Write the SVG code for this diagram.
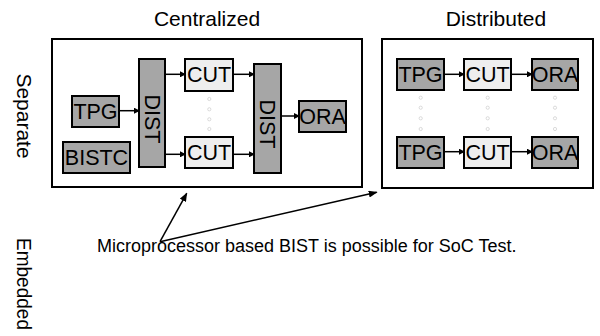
<svg xmlns="http://www.w3.org/2000/svg" width="600" height="336" viewBox="0 0 600 336">
<defs>
<marker id="ah" markerWidth="6" markerHeight="6" refX="5" refY="3" orient="auto" markerUnits="userSpaceOnUse">
<path d="M0,0 L6,3 L0,6 z" fill="#000"/>
</marker>
<marker id="ah2" markerWidth="9" markerHeight="7" refX="8" refY="3.5" orient="auto" markerUnits="userSpaceOnUse">
<path d="M0,0 L9,3.5 L0,7 z" fill="#000"/>
</marker>
</defs>
<style>
text{font-family:"Liberation Sans",Arial,sans-serif;fill:#000}
.frame{fill:#fff;stroke:#000;stroke-width:2}
.dark{fill:#a6a6a6;stroke:#000;stroke-width:2}
.light{fill:#eeeeee;stroke:#000;stroke-width:2}
.lbl{font-size:21px;text-anchor:middle}
.nt{font-size:21.5px;text-anchor:middle}
.cap{font-size:18px}
.c{stroke:#000;stroke-width:1.5;fill:none;marker-end:url(#ah)}
.p{stroke:#000;stroke-width:1.5;fill:none;marker-end:url(#ah2)}
.dot{fill:none;stroke:#d0d0d0;stroke-width:0.8}
</style>
<rect width="600" height="336" fill="#fff"/>
<text class="lbl" x="207" y="26">Centralized</text>
<text class="lbl" x="496" y="26">Distributed</text>
<text class="lbl" transform="translate(17,116) rotate(90)">Separate</text>
<text font-size="20" textLength="92" lengthAdjust="spacingAndGlyphs" transform="translate(17,238) rotate(90)">Embedded</text>
<g id="centralized"><rect class="frame" x="52" y="39" width="310" height="148"/></g>
<g id="distributed"><rect class="frame" x="382" y="39" width="211" height="149"/></g>
<g id="c-tpg"><rect class="dark" x="72" y="96" width="47" height="31"/><text class="nt" x="95.5" y="119">TPG</text></g>
<g id="c-bistc"><rect class="dark" x="63" y="142" width="67" height="31"/><text class="nt" x="96.5" y="165">BISTC</text></g>
<g id="c-dist1"><rect class="dark" x="139" y="59" width="26" height="108"/><text class="nt" transform="translate(145,119) rotate(90)">DIST</text></g>
<g id="c-cut1"><rect class="light" x="185" y="59" width="48" height="32"/><text class="nt" x="209" y="82">CUT</text></g>
<g id="c-cut2"><rect class="light" x="185" y="137" width="48" height="31"/><text class="nt" x="209" y="160">CUT</text></g>
<g id="c-dist2"><rect class="dark" x="254" y="64" width="27" height="109"/><text class="nt" transform="translate(260,124) rotate(90)">DIST</text></g>
<g id="c-ora"><rect class="dark" x="299" y="101" width="47" height="31"/><text class="nt" x="322.5" y="124">ORA</text></g>
<g id="d-tpg1"><rect class="dark" x="397" y="59" width="47" height="31"/><text class="nt" x="420.5" y="82">TPG</text></g>
<g id="d-cut1"><rect class="light" x="464" y="59" width="47" height="31"/><text class="nt" x="487.5" y="82">CUT</text></g>
<g id="d-ora1"><rect class="dark" x="532" y="59" width="46" height="31"/><text class="nt" x="555" y="82">ORA</text></g>
<g id="d-tpg2"><rect class="dark" x="397" y="137" width="47" height="31"/><text class="nt" x="420.5" y="160">TPG</text></g>
<g id="d-cut2"><rect class="light" x="464" y="137" width="47" height="31"/><text class="nt" x="487.5" y="160">CUT</text></g>
<g id="d-ora2"><rect class="dark" x="532" y="137" width="46" height="31"/><text class="nt" x="555" y="160">ORA</text></g>
<g id="dots">
<circle class="dot" cx="209.3" cy="99" r="1.6"/><circle class="dot" cx="209.3" cy="109.3" r="1.6"/><circle class="dot" cx="209.3" cy="119.3" r="1.6"/><circle class="dot" cx="209.3" cy="129" r="1.6"/>
<circle class="dot" cx="420.7" cy="97.7" r="1.6"/><circle class="dot" cx="420.7" cy="107.7" r="1.6"/><circle class="dot" cx="420.7" cy="118.3" r="1.6"/><circle class="dot" cx="420.7" cy="129" r="1.6"/>
<circle class="dot" cx="487.7" cy="97.7" r="1.6"/><circle class="dot" cx="487.7" cy="107.7" r="1.6"/><circle class="dot" cx="487.7" cy="118.3" r="1.6"/><circle class="dot" cx="487.7" cy="129" r="1.6"/>
<circle class="dot" cx="555" cy="97.7" r="1.6"/><circle class="dot" cx="555" cy="107.7" r="1.6"/><circle class="dot" cx="555" cy="118.3" r="1.6"/><circle class="dot" cx="555" cy="129" r="1.6"/>
</g>
<g id="connectors">
<line class="c" x1="119" y1="110.7" x2="139" y2="110.7"/>
<line class="c" x1="165" y1="74.3" x2="185" y2="74.3"/>
<line class="c" x1="165" y1="154.3" x2="185" y2="154.3"/>
<line class="c" x1="233" y1="74.3" x2="254" y2="74.3"/>
<line class="c" x1="233" y1="154.3" x2="254" y2="154.3"/>
<line class="c" x1="281" y1="116" x2="299" y2="116"/>
<line class="c" x1="444" y1="74.3" x2="464" y2="74.3"/>
<line class="c" x1="511" y1="74.3" x2="532" y2="74.3"/>
<line class="c" x1="444" y1="151.7" x2="464" y2="151.7"/>
<line class="c" x1="511" y1="151.7" x2="532" y2="151.7"/>
<line class="p" x1="160" y1="241.7" x2="186.7" y2="193.3"/>
<line class="p" x1="160" y1="241.7" x2="376.7" y2="192.3"/>
</g>
<text class="cap" x="97" y="251.5">Microprocessor based BIST is possible for SoC Test.</text>
</svg>
